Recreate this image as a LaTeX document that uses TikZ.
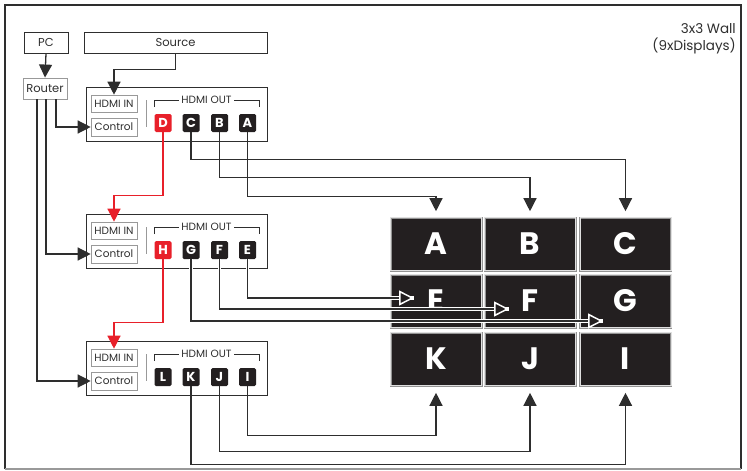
\documentclass[tikz,border=0pt]{standalone}
\usepackage{fontspec}
\setmainfont{Poppins}
\usetikzlibrary{arrows.meta,calc}
\definecolor{ink}{HTML}{231F20}
\definecolor{ln}{HTML}{2E2E2E}
\definecolor{hred}{HTML}{E8202A}
\begin{document}
\begin{tikzpicture}[x=1pt,y=-1pt,
  lbl/.style={draw=gray!80, line width=0.6pt, font=\fontsize{10.5}{11}\selectfont, inner sep=0pt, minimum width=46, minimum height=17, text=ln},
  topbox/.style={draw=ln, line width=0.9pt, inner sep=0pt, minimum height=21, font=\fontsize{11.5}{12}\selectfont, text=ln},
  swbox/.style={draw=ln, line width=1pt, minimum width=181, minimum height=54, inner sep=0pt},
  port/.style={fill=ink, rounded corners=1.5pt, minimum width=17, minimum height=18, inner sep=0pt, text=white, font=\bfseries\fontsize{13}{13}\selectfont},
  disp/.style={fill=ink, draw=gray!85, double=gray!25, double distance=0.8pt, line width=0.6pt, minimum width=91, minimum height=53, inner sep=0pt, text=white, font=\bfseries\fontsize{31}{31}\selectfont},
  wire/.style={ln, line width=1.3pt},
  arr/.style={wire, -{Triangle[length=13pt,width=13pt]}},
  redarr/.style={hred, line width=1.3pt, -{Triangle[length=13pt,width=13pt]}},
  casearr/.style={ln, line width=1.2pt, preaction={draw=white, line width=3.2pt, -}, -{Triangle[open, length=15pt, width=15pt, color=white, line width=1.5pt, fill=ink]}}
]
\useasboundingbox (0,0) rectangle (747,471);
\draw[ln, line width=2pt] (5,469) -- (5,5) -- (741,5) -- (741,469);
\draw[gray!80, line width=1.5pt] (5,469) -- (741,469);

% title
\node[anchor=north east, align=right, font=\fontsize{13.5}{17}\selectfont, text=ln, inner sep=0pt] (title) at (736,23) {3x3 Wall\\(9xDisplays)};

% top boxes
\node[topbox, minimum width=44] (PC) at (46,42.5) {PC};
\node[topbox, minimum width=183] (Source) at (175.5,42.5) {Source};
\node[topbox, minimum width=44, draw=gray!80] (Router) at (45,88.5) {Router};

% switch boxes
\foreach \i/\cy/\la/\lb/\lc/\ld/\col in {1/114/D/C/B/A/hred, 2/241/H/G/F/E/hred, 3/368/L/K/J/I/ink} {
  \node[swbox] (sw\i) at (176.5,\cy) {};
  \node[lbl] (hin\i) at (114,{\cy-10.5}) {HDMI IN};
  \node[lbl, minimum height=18] (ctl\i) at (114,{\cy+13}) {Control};
  \draw[gray!80, line width=0.8pt] (146,{\cy-14}) -- (146,{\cy+13});
  \draw[ln, line width=0.6pt] (154,{\cy-7}) -- (154,{\cy-14}) -- (259,{\cy-14}) -- (259,{\cy-7});
  \node[fill=white, inner xsep=2pt, inner ysep=0pt, font=\fontsize{10.5}{11}\selectfont, text=ln] (ho\i) at (206.5,{\cy-14}) {HDMI OUT};
  \node[port, fill=\col] (p\la) at (163,{\cy+9}) {\la};
  \node[port] (p\lb) at (191,{\cy+9}) {\lb};
  \node[port] (p\lc) at (219.5,{\cy+9}) {\lc};
  \node[port] (p\ld) at (247.5,{\cy+9}) {\ld};
}

% displays
\foreach \n/\x/\y in {A/436/244, B/530/244, C/625.5/244, E/436/301, F/530/301, G/625.5/301, K/436/359, J/530/359, I/625.5/359} {
  \node[disp] (d\n) at (\x,\y) {\n};
}

% PC, source, router connections
\draw[arr] (PC.south) -- (Router.north);
\draw[arr] (Source.south) -- ++(0,16) -| (hin1.north);
\draw[arr] ([xshift=11pt]Router.south) |- (ctl1.west);
\draw[arr] ([xshift=1pt]Router.south) |- (ctl2.west);
\draw[arr] ([xshift=-8pt]Router.south) |- (ctl3.west);

% red daisy chain
\draw[redarr] (pD.south) -- ++(0,63) -| (hin2.north);
\draw[redarr] (pH.south) -- ++(0,63) -| (hin3.north);

% top row outputs
\draw[arr, shorten >=6pt] (pA.south) -- ++(0,64) -| (dA.north);
\draw[arr, shorten >=6pt] (pB.south) -- ++(0,45) -| (dB.north);
\draw[arr, shorten >=6pt] (pC.south) -- ++(0,27) -| (dC.north);

% middle row outputs
\coordinate (eE) at (414,298);
\coordinate (eF) at (509,309);
\coordinate (eG) at (603,321);
\draw[casearr] (pE.south) |- (eE);
\draw[casearr] (pF.south) |- (eF);
\draw[casearr] (pG.south) |- (eG);

% bottom row outputs
\draw[arr, shorten >=7pt] (pI.south) -- ++(0,49) -| (dK.south);
\draw[arr, shorten >=7pt] (pJ.south) -- ++(0,65) -| (dJ.south);
\draw[arr, shorten >=7pt] (pK.south) -- ++(0,78) -| (dI.south);
\end{tikzpicture}
\end{document}
